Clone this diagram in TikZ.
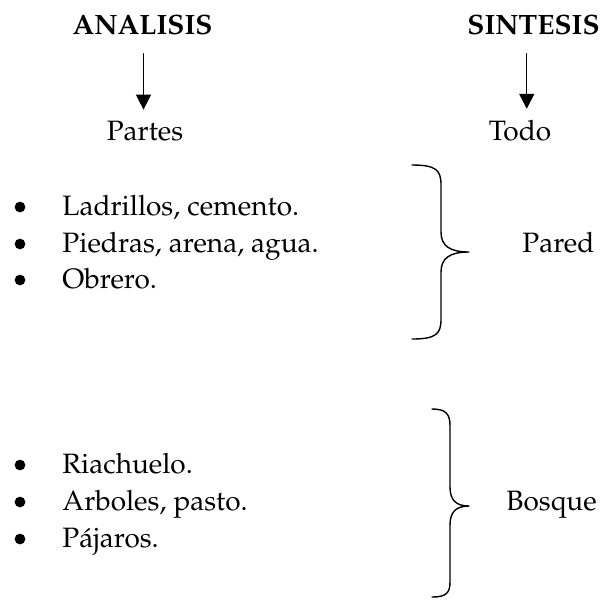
\documentclass[12pt,tikz,border=0pt]{standalone}
\usepackage[T1]{fontenc}
\usepackage{mathpazo}
\usepackage{tikz}
\usetikzlibrary{arrows.meta, calc}

\begin{document}
\begin{tikzpicture}[x={(0.42857pt,0)}, y={(0,-0.42857pt)}, line cap=round, line join=round,
    texto/.style={inner sep=0pt, anchor=base},
    item/.style={inner sep=0pt, anchor=base west},
    vineta/.style={circle, fill=black, inner sep=0pt, minimum size=4.6pt},
    flecha/.style={-{Triangle[length=6.4pt, width=6.4pt]}, line width=0.6pt, shorten <=8.1pt, shorten >=4.5pt},
    llave/.style={line width=0.6pt}]
	\useasboundingbox (0,0) rectangle (603,599);

	% -- Titulos --
	\node[texto, font=\bfseries] (analisis) at (142.5,34) {ANALISIS};
	\node[texto, font=\bfseries] (sintesis) at (533.5,34) {SINTESIS};
	\node[texto] (partes) at (145,140) {Partes};
	\node[texto] (todo) at (520,140) {Todo};
	\coordinate (f1) at ($(analisis.south)!.4!(analisis.south -| partes.north)$);
	\coordinate (f2) at ($(sintesis.south)!.5!(sintesis.south -| todo.north)$);
	\draw[flecha] (f1) -- (f1 |- partes.north);
	\draw[flecha] (f2) -- (f2 |- todo.north);

	% -- Pared --
	\foreach \txt/\yy [count=\i] in {{Ladrillos, cemento.}/215, {Piedras, arena, agua.}/252, {Obrero.}/288}{
		\node[vineta] (pb\i) at (20,\yy-8) {};
		\node[item] (p\i) at (62,\yy) {\txt};
	}
	\draw[llave] (412,165) .. controls (436,165) and (441,170) .. (441,185) -- (441,232)
		.. controls (441,246) and (450,252) .. (469,252)
		.. controls (450,252) and (441,258) .. (441,272) -- (441,319)
		.. controls (441,334) and (436,339) .. (412,339);
	\node[item] (pared) at (522,252) {Pared};

	% -- Bosque --
	\foreach \txt/\yy [count=\i] in {{Riachuelo.}/473, {Arboles, pasto.}/510, {P\'ajaros.}/547}{
		\node[vineta] (bb\i) at (20,\yy-8) {};
		\node[item] (b\i) at (62,\yy) {\txt};
	}
	\draw[llave] (432,409) .. controls (446,409) and (450,414) .. (450,426) -- (450,487)
		.. controls (450,500) and (456,506) .. (469,506)
		.. controls (456,506) and (450,512) .. (450,525) -- (450,582)
		.. controls (450,593) and (446,597) .. (432,597);
	\node[item] (bosque) at (506,510) {Bosque};
\end{tikzpicture}
\end{document}
